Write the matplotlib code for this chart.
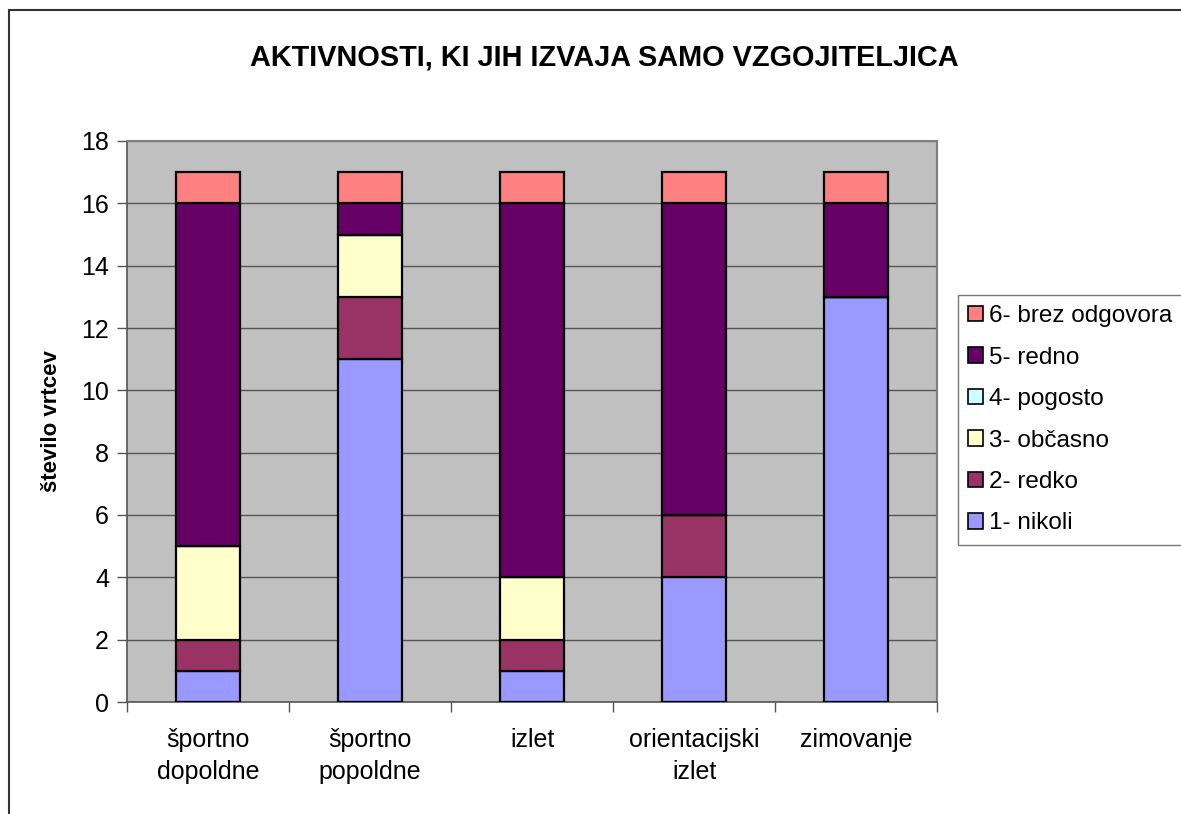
import matplotlib
matplotlib.use("Agg")
import matplotlib.pyplot as plt
import numpy as np
from matplotlib.patches import Rectangle

plt.rcParams["font.family"] = ["Liberation Sans", "DejaVu Sans"]

CATEGORIES = ["športno\ndopoldne", "športno\npopoldne", "izlet", "orientacijski\nizlet", "zimovanje"]
SERIES = ["1- nikoli", "2- redko", "3- občasno", "4- pogosto", "5- redno", "6- brez odgovora"]
nikoli = [1, 11, 1, 4, 13]
redko = [1, 2, 1, 2, 0]
obcasno = [3, 2, 2, 0, 0]
pogosto = [0, 0, 0, 0, 0]
redno = [11, 1, 12, 10, 3]
brez_odgovora = [1, 1, 1, 1, 1]
VALUES = [nikoli, redko, obcasno, pogosto, redno, brez_odgovora]
COLORS = ["#9999FF", "#993366", "#FFFFCC", "#CCFFFF", "#660066", "#FF8080"]

fig = plt.figure(figsize=(11.81, 8.14), dpi=100)
# outer chart border
fig.patches.append(Rectangle((9.5 / 1181, -0.05), 1.2, 1 - 9.5 / 814 + 0.05,
                             transform=fig.transFigure, fill=False,
                             edgecolor="#333333", linewidth=1.5))

ax = fig.add_axes([127 / 1181, 1 - 702 / 814, (937 - 127) / 1181, (702 - 141) / 814])
ax.set_facecolor("#C0C0C0")

x = np.arange(len(CATEGORIES))
bottom = np.zeros(len(CATEGORIES))
handles = []
for name, vals, color in zip(SERIES, VALUES, COLORS):
    vals = np.array(vals, dtype=float)
    bars = ax.bar(x, vals, bottom=bottom, width=0.4, color=color,
                  edgecolor="black", linewidth=1.6, label=name, zorder=3)
    handles.append(bars)
    bottom += vals

ax.set_xlim(-0.5, len(CATEGORIES) - 0.5)
ax.set_ylim(0, 18)
ax.set_yticks(np.arange(0, 19, 2))
ax.grid(axis="y", color="#555555", linewidth=1.0, zorder=1)
ax.set_axisbelow(True)

ax.set_xticks(x)
ax.set_xticklabels(CATEGORIES, fontsize=18, linespacing=1.42)
ax.set_xticks(np.arange(-0.5, len(CATEGORIES), 1), minor=True)
ax.tick_params(axis="x", which="major", length=0, pad=19)
ax.tick_params(axis="x", which="minor", length=7, color="#555555", width=1)
ax.tick_params(axis="y", length=7, color="#555555", width=1, labelsize=18, pad=6)

for side in ["top", "right"]:
    ax.spines[side].set_color("#808080")
    ax.spines[side].set_linewidth(1.5)
for side in ["left", "bottom"]:
    ax.spines[side].set_color("#555555")
    ax.spines[side].set_linewidth(1.2)

ax.set_ylabel("število vrtcev", fontsize=16, fontweight="bold", labelpad=14)

fig.text(604 / 1181, 1 - 57 / 814, "AKTIVNOSTI, KI JIH IZVAJA SAMO VZGOJITELJICA",
         ha="center", va="center", fontsize=20.8, fontweight="bold")

leg = fig.legend(handles[::-1], SERIES[::-1], loc="upper left",
                 bbox_to_anchor=(958 / 1181, 1 - 295 / 814),
                 fontsize=17.5, frameon=True, fancybox=False, edgecolor="#555555",
                 handlelength=0.6, handleheight=0.6, handletextpad=0.25,
                 labelspacing=0.8, borderpad=0.42, borderaxespad=0)
leg.get_frame().set_linewidth(1.0)
for h in leg.legend_handles:
    h.set_edgecolor("black")
    h.set_linewidth(1.2)

fig.savefig("out.png", dpi=100)
